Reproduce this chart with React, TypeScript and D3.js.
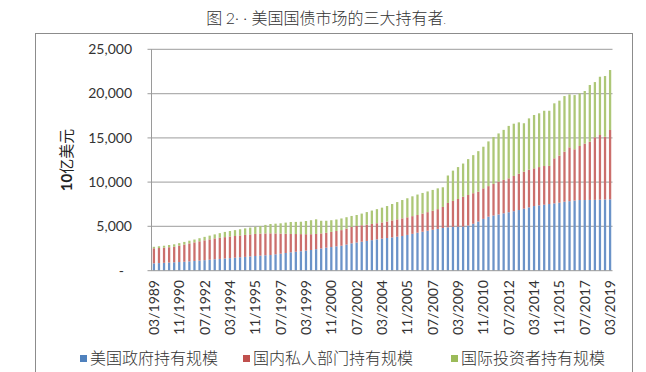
import React, { useEffect, useRef } from 'react';
import * as d3 from 'd3';

// 每4个月一个数据点, 03/1989 起
const startYear = 1989;
const monthsCycle = ['03', '07', '11'];
const periods: string[] = [];
for (let i = 0; i < 91; i++) {
  periods.push(`${monthsCycle[i % 3]}/${startYear + Math.floor(i / 3)}`);
}

const tickLabels = [
  '03/1989', '11/1990', '07/1992', '03/1994', '11/1995', '07/1997', '03/1999',
  '11/2000', '07/2002', '03/2004', '11/2005', '07/2007', '03/2009', '11/2010',
  '07/2012', '03/2014', '11/2015', '07/2017', '03/2019',
];

const yTicks = [0, 5000, 10000, 15000, 20000, 25000];

// 10亿美元
const govHold = [
  830, 860, 890, 920, 950, 980, 1010, 1050, 1100, 1140,
  1190, 1240, 1290, 1330, 1380, 1420, 1470, 1520, 1560, 1610,
  1660, 1700, 1740, 1770, 1850, 1920, 2000, 2080, 2140, 2200,
  2270, 2340, 2430, 2510, 2600, 2670, 2750, 2820, 2950, 3090,
  3180, 3270, 3360, 3450, 3540, 3620, 3690, 3760, 3840, 3920,
  4040, 4160, 4290, 4400, 4510, 4620, 4720, 4820, 4900, 4960,
  4980, 4990, 5100, 5300, 5550, 5850, 6100, 6230, 6350, 6480,
  6600, 6720, 6850, 7000, 7150, 7300, 7380, 7450, 7530, 7600,
  7680, 7790, 7850, 7920, 7980, 7980, 7990, 8000, 8020, 8040,
  8060,
];

const domesticHold = [
  1700, 1700, 1710, 1730, 1760, 1850, 1940, 2030, 2100, 2180,
  2240, 2300, 2360, 2390, 2410, 2440, 2450, 2460, 2480, 2490,
  2490, 2490, 2470, 2450, 2360, 2270, 2170, 2070, 2000, 1930,
  1850, 1780, 1720, 1700, 1680, 1710, 1730, 1760, 1810, 1860,
  1870, 1860, 1840, 1830, 1820, 1830, 1870, 1920, 1960, 1990,
  1990, 2000, 2000, 2050, 2100, 2150, 2230, 2380, 2750, 2920,
  3120, 3360, 3450, 3450, 3370, 3450, 3450, 3570, 3700, 3770,
  3830, 3980, 4100, 4180, 4250, 4260, 4320, 4370, 4300, 5090,
  5320, 5650, 6080, 5790, 6100, 6370, 6570, 7060, 7300, 7090,
  7830,
];

const foreignHold = [
  170, 200, 220, 250, 270, 280, 300, 310, 320, 350,
  390, 420, 450, 520, 590, 620, 660, 700, 740, 770,
  800, 860, 960, 1050, 1100, 1160, 1260, 1350, 1370, 1400,
  1490, 1580, 1650, 1430, 1360, 1320, 1300, 1320, 1280, 1230,
  1240, 1320, 1420, 1510, 1590, 1670, 1740, 1850, 1950, 2070,
  2150, 2240, 2310, 2330, 2340, 2350, 2350, 2220, 3100, 3420,
  3600, 3750, 4050, 4300, 4580, 4700, 5050, 5300, 5450, 5650,
  5920, 5900, 5800, 5470, 5800, 6020, 6070, 6240, 6230, 6210,
  6200, 6280, 5980, 6120, 5940, 5940, 6410, 6240, 6580, 6850,
  6770,
];

const seriesKeys = ['gov', 'dom', 'for'];
const seriesNames = ['美国政府持有规模', '国内私人部门持有规模', '国际投资者持有规模'];
const seriesColors = ['#6b93c8', '#cb6f6c', '#adc777'];
const legendColors = ['#4f81bd', '#c0504d', '#9bbb59'];

const App = () => {
  const ref = useRef<SVGSVGElement>(null);

  useEffect(() => {
    const svg = d3.select(ref.current);
    svg.selectAll('*').remove();

    const width = 646;
    const height = 372;
    const left = 151.5, right = 612.5, top = 49.3, bottom = 270.7;
    const numFont = 'Lato, "Noto Sans CJK SC", sans-serif';
    const cjkFont = '"Noto Sans CJK SC", sans-serif';

    svg.attr('width', width).attr('height', height);

    svg.append('rect')
      .attr('width', width).attr('height', height).attr('fill', 'white');

    // 标题
    const title = svg.append('text')
      .attr('x', 326).attr('y', 24)
      .attr('text-anchor', 'middle')
      .attr('font-family', cjkFont)
      .attr('font-size', 16)
      .attr('font-weight', 300)
      .attr('fill', '#333');
    title.append('tspan').text('图 ');
    title.append('tspan').attr('font-family', numFont).text('2· · ');
    title.append('tspan').text('美国国债市场的三大持有者');
    title.append('tspan').attr('font-family', numFont).attr('font-size', 10).text('.');

    // 图表外框
    svg.append('rect')
      .attr('x', 35.5).attr('y', 33.5)
      .attr('width', 597).attr('height', 400)
      .attr('fill', 'none')
      .attr('stroke', '#8c8c8c');

    const x = d3.scaleBand()
      .domain(periods)
      .range([left, right])
      .paddingInner(0.55)
      .paddingOuter(0.25);

    const y = d3.scaleLinear().domain([0, 25000]).range([bottom, top]);

    // 网格线
    svg.append('g')
      .selectAll('line')
      .data(yTicks.filter(d => d > 0))
      .join('line')
      .attr('x1', left - 4).attr('x2', right)
      .attr('y1', d => y(d)).attr('y2', d => y(d))
      .attr('stroke', '#b0b0b0')
      .attr('stroke-width', 1.2);

    const table = periods.map((p, i) => ({
      period: p,
      gov: govHold[i],
      dom: domesticHold[i],
      for: foreignHold[i],
    }));

    const stacked = d3.stack<any>().keys(seriesKeys)(table);

    svg.append('g')
      .selectAll('g')
      .data(stacked)
      .join('g')
      .attr('fill', (d, i) => seriesColors[i])
      .selectAll('rect')
      .data(d => d)
      .join('rect')
      .attr('x', d => x(d.data.period)!)
      .attr('width', x.bandwidth())
      .attr('y', d => y(d[1]))
      .attr('height', d => y(d[0]) - y(d[1]));

    // 坐标轴线
    svg.append('line')
      .attr('x1', left).attr('x2', left)
      .attr('y1', top).attr('y2', bottom)
      .attr('stroke', '#9a9a9a');
    svg.append('line')
      .attr('x1', left - 4).attr('x2', right)
      .attr('y1', bottom).attr('y2', bottom)
      .attr('stroke', '#9a9a9a');

    // y 轴刻度
    svg.append('g')
      .attr('font-family', numFont)
      .attr('font-size', 14)
      .attr('fill', '#333')
      .attr('text-anchor', 'end')
      .selectAll('text')
      .data(yTicks)
      .join('text')
      .attr('x', d => (d === 0 ? 124 : 132))
      .attr('y', d => y(d))
      .attr('dy', '0.35em')
      .text(d => (d === 0 ? '-' : d3.format(',')(d)));

    // y 轴标题
    const yTitle = svg.append('text')
      .attr('transform', 'translate(72,160) rotate(-90)')
      .attr('text-anchor', 'middle')
      .attr('font-family', numFont)
      .attr('font-size', 15)
      .attr('fill', '#222');
    yTitle.append('tspan').attr('font-weight', 'bold').text('10');
    yTitle.append('tspan').attr('font-family', cjkFont).attr('font-weight', 400).text('亿美元');

    // x 轴标签
    svg.append('g')
      .attr('font-family', numFont)
      .attr('font-size', 14)
      .attr('fill', '#333')
      .attr('text-anchor', 'end')
      .selectAll('text')
      .data(tickLabels)
      .join('text')
      .attr('transform', d => `translate(${x(d)! + x.bandwidth() / 2},280) rotate(-90)`)
      .attr('dy', '0.35em')
      .text(d => d);

    // 图例
    const legendX = [80, 243, 451];
    const legend = svg.append('g')
      .selectAll('g')
      .data(seriesNames)
      .join('g')
      .attr('transform', (d, i) => `translate(${legendX[i]},358)`);
    legend.append('rect')
      .attr('x', 0).attr('y', -3)
      .attr('width', 7).attr('height', 7)
      .attr('fill', (d, i) => legendColors[i]);
    legend.append('text')
      .attr('x', 10)
      .attr('y', 0)
      .attr('dy', '0.35em')
      .attr('font-family', cjkFont)
      .attr('font-size', 16)
      .attr('font-weight', 300)
      .attr('fill', '#333')
      .text(d => d);
  }, []);

  return (
    <svg ref={ref} style={{ position: 'absolute', left: 0, top: 0, display: 'block' }} />
  );
};

export default App;
